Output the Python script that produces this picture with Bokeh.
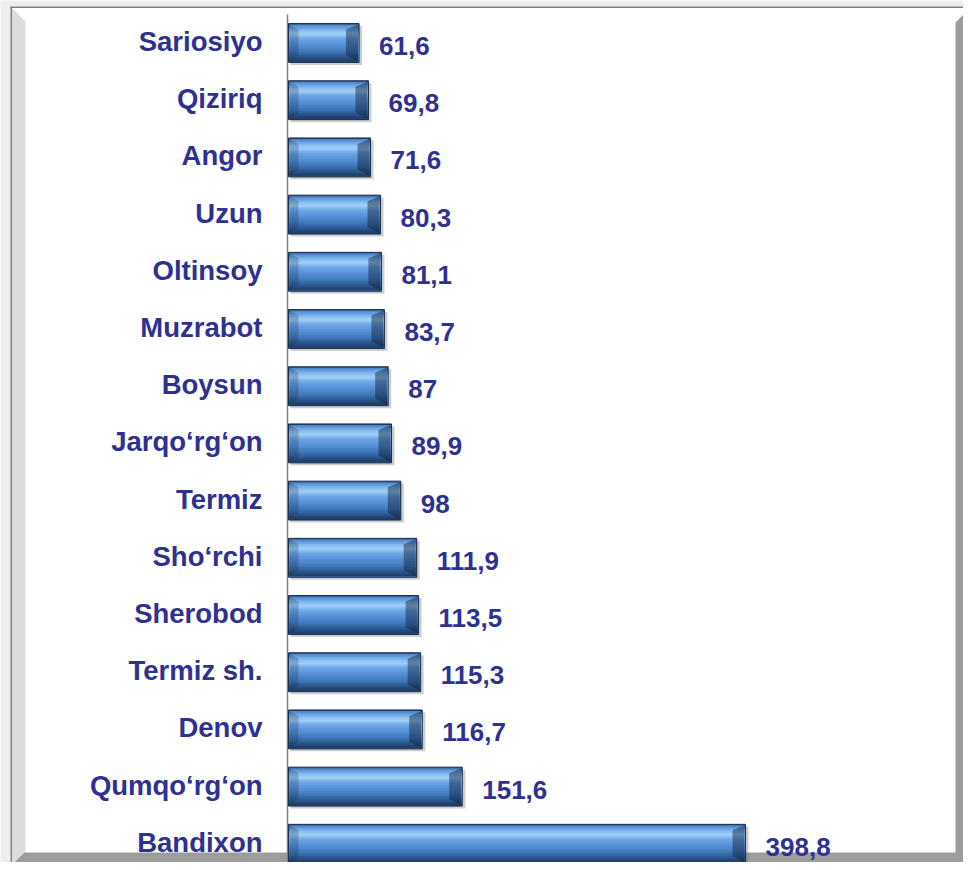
import numpy as np
from bokeh.plotting import figure
from bokeh.models import ColumnDataSource, Range1d, BoxAnnotation, PolyAnnotation
from bokeh.core.properties import value
from bokeh.embed import file_html
from bokeh.resources import INLINE

# ---- data -------------------------------------------------------------
districts = ["Sariosiyo", "Qiziriq", "Angor", "Uzun", "Oltinsoy", "Muzrabot",
             "Boysun", "Jarqo‘rg‘on", "Termiz", "Sho‘rchi", "Sherobod",
             "Termiz sh.", "Denov", "Qumqo‘rg‘on", "Bandixon"]
values = [61.6, 69.8, 71.6, 80.3, 81.1, 83.7, 87, 89.9, 98, 111.9, 113.5,
          115.3, 116.7, 151.6, 398.8]
value_labels = ["61,6", "69,8", "71,6", "80,3", "81,1", "83,7", "87", "89,9",
                "98", "111,9", "113,5", "115,3", "116,7", "151,6", "398,8"]

# ---- geometry / style --------------------------------------------------
W, H = 963, 862
PX_X = 1.146         # px per value unit
ROW = 57.2           # px per category row
X0 = 288             # canvas px of value 0
Y0 = 42.5            # canvas px of first row centre
BAR_H = 0.68
TEXT_COLOR = "#2f3191"
FONT = "Liberation Sans"

ux = lambda px: px / PX_X
uy = lambda px: px / ROW

p = figure(width=W, height=H, output_backend="svg", toolbar_location=None,
           x_axis_location=None, y_axis_location=None, min_border=0,
           x_range=Range1d(-X0 / PX_X, (W - X0) / PX_X),
           y_range=Range1d((H - Y0) / ROW, -Y0 / ROW))
p.outline_line_color = None
p.grid.visible = False
p.background_fill_color = "white"
p.border_fill_color = "white"


def canvas_box(l, r, t, b, color):
    p.add_layout(BoxAnnotation(left=l, right=r, top=t, bottom=b, fill_color=color,
                               fill_alpha=1, line_color=None, level="underlay",
                               left_units="canvas", right_units="canvas",
                               top_units="canvas", bottom_units="canvas"))


def canvas_poly(xs, ys, color):
    p.add_layout(PolyAnnotation(xs=xs, ys=ys, xs_units="canvas", ys_units="canvas",
                                fill_color=color, fill_alpha=1, line_color=None,
                                level="underlay"))


# ---- frame decoration (canvas units) -----------------------------------
canvas_box(0, 10, 0, H, "#efeded")
canvas_box(0, W, 0, 6, "#efeded")
canvas_box(10, 11.5, 6, H, "#7f7f7f")
canvas_box(10, W, 6, 7.5, "#7f7f7f")
canvas_poly([11.5, 25, 25, 11.5], [7.5, 21, H, H], "#dcdcdc")
canvas_poly([955, 963, 963, 955], [22, 14, H, H], "#9c9c9c")
canvas_poly([14, W, W, 24], [H, H, H - 10, H - 10], "#9c9c9c")

# ---- axis line ----------------------------------------------------------
p.segment(x0=[ux(-1)], x1=[ux(-1)], y0=[-0.5], y1=[len(values)],
          line_color="#7f7f7f", line_width=1.5)

ys = np.arange(len(values), dtype=float)
vals = np.array(values)

# shadow
p.hbar(y=ys + uy(2.5), left=ux(2), right=vals + ux(3), height=BAR_H,
       fill_color="#6f6f6f", fill_alpha=0.35, line_color=None)
# base
p.hbar(y=ys, left=0, right=vals, height=BAR_H, fill_color="#22426e",
       line_color="#1a2f50", line_width=1)


def hex2rgb(h):
    h = h.lstrip("#")
    return np.array([int(h[i:i + 2], 16) for i in (0, 2, 4)], dtype=float)


def grad(f, keys, k=1.0):
    for (f0, c0), (f1, c1) in zip(keys[:-1], keys[1:]):
        if f0 <= f <= f1:
            t = (f - f0) / (f1 - f0) if f1 > f0 else 0
            c = (hex2rgb(c0) * (1 - t) + hex2rgb(c1) * t) * k
            c = np.clip(c, 0, 255).astype(int)
            return "#%02x%02x%02x" % tuple(c)
    return keys[-1][1]


keys = [(0.0, "#3f72b2"), (0.08, "#5e97da"), (0.18, "#86bcf1"), (0.27, "#a4d0f8"),
        (0.38, "#6fa8e9"), (0.55, "#5890d6"), (0.72, "#4078bb"), (0.86, "#2c568c"),
        (1.0, "#1b3558")]

# full-width gradient (painter's order: each strip reaches to the bottom)
N = 24
t0, b0 = -BAR_H / 2 + uy(1), BAR_H / 2 - uy(1)
hh = b0 - t0
for k in range(N):
    tk = t0 + k * hh / N
    f = (tk - (-BAR_H / 2) + 0.5 * hh / N) / BAR_H
    p.hbar(y=ys + (tk + b0) / 2, left=ux(1), right=vals - ux(1), height=b0 - tk,
           fill_color=grad(f, keys), line_color=None)

# end bevels (trapezoids derived from bar values)
top, bot = -BAR_H / 2 + uy(1), BAR_H / 2 - uy(1)
lx, rx = ux(10), ux(13)
left_xs = [[ux(1), lx, lx, ux(1)] for v in vals]
left_ys = [[y + top, y + top + uy(5), y + bot - uy(6), y + bot] for y in ys]
right_xs = [[v - ux(1), v - rx, v - rx, v - ux(1)] for v in vals]
right_ys = left_ys
p.patches(xs=left_xs, ys=left_ys, fill_color="#0e2038", fill_alpha=0.22, line_color=None)
p.patches(xs=right_xs, ys=right_ys, fill_color="#0e2038", fill_alpha=0.45, line_color=None)

# ---- labels -------------------------------------------------------------
src = ColumnDataSource(dict(y=ys, v=vals, name=districts, lab=value_labels,
                            zero=np.zeros(len(values))))
p.text(x="zero", y="y", text="name", source=src, x_offset=-26, y_offset=-1.5,
       text_align="right", text_baseline="middle", text_font=value(FONT),
       text_font_style="bold", text_font_size="27.5px", text_color=TEXT_COLOR)
p.text(x="v", y="y", text="lab", source=src, x_offset=20, y_offset=3,
       text_align="left", text_baseline="middle", text_font=value(FONT),
       text_font_style="bold", text_font_size="26px", text_color=TEXT_COLOR)

open("out.html", "w").write(file_html(p, INLINE))
